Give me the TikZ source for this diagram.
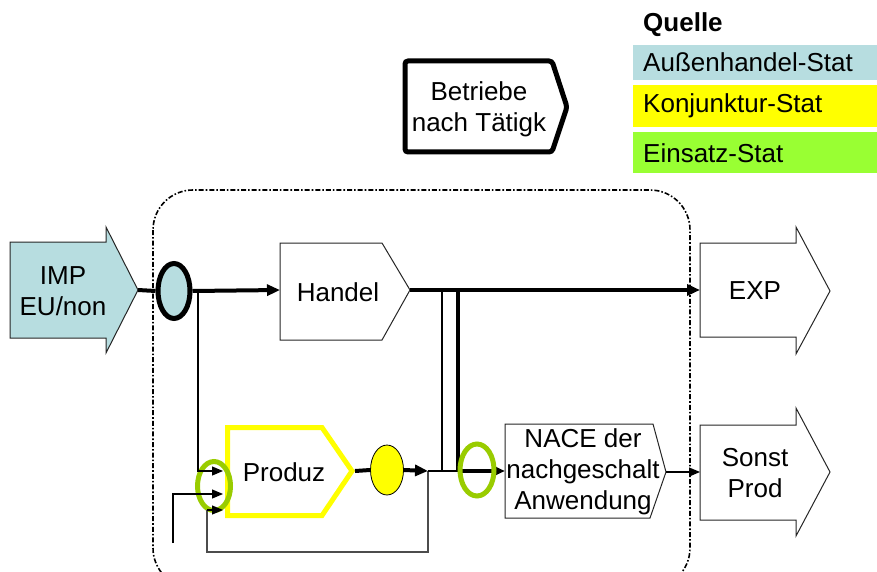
\documentclass[tikz,border=0pt]{standalone}
\usepackage{fontspec}
\setmainfont{Liberation Sans}
\usetikzlibrary{shapes.geometric,arrows.meta}
\definecolor{lblue}{RGB}{183,221,224}
\definecolor{lgreen}{RGB}{153,255,51}
\definecolor{egreen}{RGB}{153,204,0}
\definecolor{ylw}{RGB}{255,255,0}
\begin{document}
\begin{tikzpicture}[x=1pt,y=-1pt,
  font=\fontsize{26}{31}\selectfont,
  txt/.style={align=center,inner sep=0pt},
  thinln/.style={line width=1.2pt},
  heavy/.style={line width=4pt},
  arrs/.style={-{Triangle[length=11pt,width=9pt]}},
  arrh/.style={-{Triangle[length=13pt,width=11pt]}},
  shapeln/.style={line width=1pt, draw=black!85, fill=white}
]
\useasboundingbox (0,0) rectangle (877,572);

% legend
\node[txt, anchor=west, font=\fontsize{26}{31}\selectfont\bfseries] (quelle) at (643,25) {Quelle};
\fill[lblue] (633,45) rectangle (877,80);
\node[txt, anchor=west] (aus) at (643,62) {Außenhandel-Stat};
\fill[ylw] (633,85) rectangle (877,127);
\node[txt, anchor=west] (kon) at (643,106) {Konjunktur-Stat};
\fill[lgreen] (633,132) rectangle (877,173);
\node[txt, anchor=west] (ein) at (643,153) {Einsatz-Stat};

% Betriebe
\draw[line width=5pt, rounded corners=3pt, fill=white] (405,61) -- (552,61) -- (567,107) -- (552,152) -- (405,152) -- cycle;
\node[txt] (betr) at (479,109) {Betriebe\\nach Tätigk};

% boundary
\draw[line width=1.6pt, dash pattern=on 5pt off 2pt on 1.6pt off 2pt, rounded corners=40pt] (153,190) rectangle (690,588);

% IMP arrow
\draw[shapeln, fill=lblue] (10,242) -- (106,242) -- (106,227) -- (138,290) -- (106,353) -- (106,338) -- (10,338) -- cycle;
\coordinate (imptip) at (138,290);
\node[txt] (imp) at (63,291) {IMP\\EU/non};

% Handel
\draw[shapeln] (280,243) -- (382,243) -- (410,290) -- (382,340) -- (280,340) -- cycle;
\coordinate (handelW) at (280,290);
\coordinate (handelE) at (410,290);
\node[txt] (handel) at (338,292) {Handel};

% EXP
\draw[shapeln] (700,243) -- (796,243) -- (796,227) -- (830,291) -- (796,354) -- (796,337) -- (700,337) -- cycle;
\coordinate (expW) at (700,290);
\node[txt] (exp) at (755,291) {EXP};

% Sonst Prod
\draw[shapeln] (700,425) -- (796,425) -- (796,408) -- (830,472) -- (796,536) -- (796,520) -- (700,520) -- cycle;
\coordinate (sonstW) at (700,472);
\node[txt] (sonst) at (755,473) {Sonst\\Prod};

% Produz
\draw[line width=5pt, draw=ylw, fill=white] (227.5,427.5) -- (322,427.5) -- (352,471) -- (322,515.5) -- (227.5,515.5) -- cycle;
\coordinate (prodE) at (355,471);
\node[txt] (produz) at (284,472) {Produz};

% NACE
\draw[shapeln] (505,424) -- (653,424) -- (666,472) -- (650,518) -- (505,518) -- cycle;
\coordinate (naceW) at (505,471);
\coordinate (naceE) at (666,472);
\node[txt] (nace) at (583,472) {NACE der\\nachgeschalt\\Anwendung};

% ellipses
\node[draw=black, line width=5pt, fill=lblue, ellipse, minimum width=32pt, minimum height=55pt, inner sep=0pt] (eblue) at (174,291) {};
\node[draw=black, line width=0.8pt, fill=ylw, ellipse, minimum width=33pt, minimum height=50pt, inner sep=0pt] (eyel) at (387,470) {};
\node[draw=egreen, line width=5pt, ellipse, minimum width=33pt, minimum height=49pt, inner sep=0pt] (egr1) at (214,486) {};

% coordinates for connectors
\coordinate (split1) at (198,290);
\coordinate (in1) at (198,471);
\coordinate (prodIn1) at (223,471);
\coordinate (in2b) at (173,543);
\coordinate (in2) at (173,494);
\coordinate (prodIn2) at (223,494);
\coordinate (fb0) at (428,471);
\coordinate (fb1) at (428,552);
\coordinate (fb2) at (207,552);
\coordinate (fb3) at (207,510);
\coordinate (prodIn3) at (223,510);
\coordinate (vA) at (442,290);
\coordinate (vAb) at (442,471);
\coordinate (vB) at (458,290);
\coordinate (vBb) at (458,471);

% connectors
\draw[heavy] (imptip) -- (eblue.west);
\draw[heavy, arrh] (eblue.east) -- (handelW);
\draw[heavy, arrh] (handelE) -- (expW);
\draw[thinln] (vA) -- (vAb);
\draw[heavy] (vB) -- (vBb);
\draw[thinln, arrs] (split1) |- (prodIn1);
\draw[thinln, arrs] (in2b) |- (prodIn2);
\draw[thinln, draw=black!70] (fb0) -- (fb1) -- (fb2) -- (fb3);
\draw[thinln, arrs] (fb3) -- (prodIn3);
\draw[heavy] (prodE) -- (eyel.west);
\draw[heavy, arrh] (eyel.east) -- (fb0);
\draw[thinln] (fb0) -- (vBb);
\draw[heavy, arrh] (vBb) -- (naceW);
\draw[thinln, arrs] (naceE) -- (sonstW);
\node[draw=egreen, line width=5pt, ellipse, minimum width=34pt, minimum height=52pt, inner sep=0pt] (egr2) at (477,470) {};
\end{tikzpicture}
\end{document}
